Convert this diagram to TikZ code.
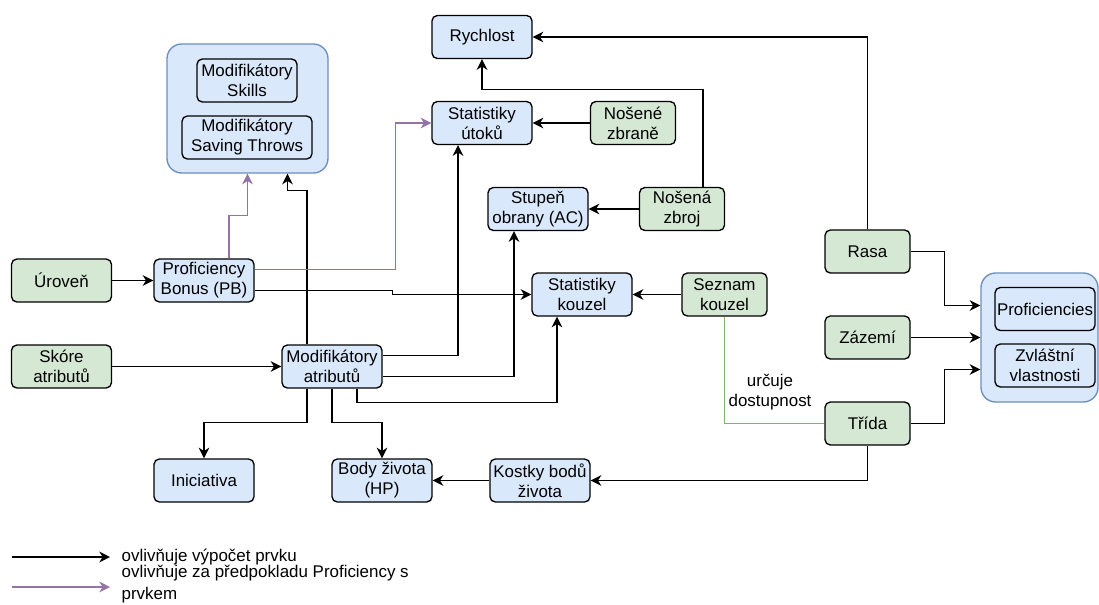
\documentclass[tikz,border=0pt]{standalone}
\usepackage{fontspec}
\setmainfont{Liberation Sans}
\usetikzlibrary{arrows.meta,calc}

\definecolor{blueF}{HTML}{DAE8FC}
\definecolor{blueD}{HTML}{6C8EBF}
\definecolor{greenF}{HTML}{D5E8D4}
\definecolor{greenD}{HTML}{82B366}
\definecolor{purpleD}{HTML}{9673A6}

\tikzset{
  box/.style={draw, rounded corners=4pt, minimum width=75pt, minimum height=32.25pt,
    inner sep=0pt, align=center, font=\fontsize{12.7}{15}\selectfont},
  calc box/.style={box, fill=blueF},
  input box/.style={box, fill=greenF},
  group box/.style={draw=blueD, fill=blueF, rounded corners=11pt, minimum height=96.75pt},
  arr/.style={draw, -{Stealth[length=8pt,width=8pt,inset=2.5pt]}},
  parr/.style={arr, draw=purpleD, -{Stealth[length=8pt,width=8pt,inset=2.5pt,fill=purpleD]}},
}

\begin{document}
\begin{tikzpicture}[x=0.75pt,y=-0.75pt,line width=1pt]

      \useasboundingbox (0,0) rectangle (1099,604);

      % skupiny
      \node[group box, minimum width=120.75pt] (modgrp) at (247.5,108.5) {};
      \node[group box, minimum width=87.75pt] (profgrp) at (1039.5,337.5) {};

      \begin{scope}[every node/.style={calc box}]
        \node (skills)  at (247,80.5)  {Modifikátory\\Skills};
        \node[minimum width=97.5pt] (saving) at (247,137.5) {Modifikátory\\Saving Throws};
        \node (prof)    at (1045,309)  {Proficiencies};
        \node (zvl)     at (1045,365.5) {Zvláštní\\vlastnosti};
        \node (rychlost) at (482,37)   {Rychlost};
        \node (utoky)   at (482,123)   {Statistiky\\útoků};
        \node (ac)      at (538,209)   {Stupeň\\obrany (AC)};
        \node (kouzla)  at (582,294.5) {Statistiky\\kouzel};
        \node (pb)      at (204,280.5) {Proficiency\\Bonus (PB)};
        \node (modattr) at (332,366.5) {Modifikátory\\atributů};
        \node (inic)    at (204,480.5) {Iniciativa};
        \node (hp)      at (382,480.5) {Body života\\(HP)};
        \node (kostky)  at (540,480.5) {Kostky bodů\\života};
      \end{scope}

      \begin{scope}[every node/.style={input box}]
        \node[minimum width=63.75pt] (zbrane)  at (633,123)   {Nošené\\zbraně};
        \node[minimum width=63.75pt] (zbroj)   at (682,209)   {Nošená\\zbroj};
        \node[minimum width=63.75pt] (seznam)  at (724.5,294.5) {Seznam\\kouzel};
        \node (uroven)  at (61.5,280.5) {Úroveň};
        \node (skore)   at (61.5,366.5) {Skóre\\atributů};
        \node[minimum width=63.75pt] (rasa)    at (867.5,251.5) {Rasa};
        \node[minimum width=63.75pt] (zazemi)  at (867.5,337.5) {Zázemí};
        \node[minimum width=63.75pt] (trida)   at (867.5,423.5) {Třída};
      \end{scope}

      % ovlivňuje výpočet
      \begin{scope}[every path/.style={arr}]
        \path (rasa.north) |- (rychlost.east);
        \path ($(zbroj.north)+(21,0)$) |- ($(rychlost.south)+(0,30)$) -- (rychlost.south);
        \path (zbrane.west) -- (utoky.east);
        \path (zbroj.west) -- (ac.west -| ac.east);
        \path (seznam.west) -- (kouzla.east);
        \path (uroven.east) -- (pb.west);
        \path ($(pb.east)+(0,10)$) -| ($(kouzla.west)+(-139,0)$) -- (kouzla.west);
        \path (skore.east) -- (modattr.west);
        \path ($(modattr.north)+(-25,0)$) |- ($(modgrp.south)+(40,17)$) -- ($(modgrp.south)+(40,0)$);
        \path ($(modattr.east)+(0,-11)$) -| ($(utoky.south)+(-24,0)$);
        \path ($(modattr.east)+(0,10)$) -| ($(ac.south)+(-24,0)$);
        \path ($(modattr.south)+(25,0)$) |- ($(kouzla.south)+(-25,86)$) -- ($(kouzla.south)+(-25,0)$);
        \path ($(modattr.south)+(-25,0)$) |- ($(inic.north)+(0,-36)$) -- (inic.north);
        \path (modattr.south) |- ($(hp.north)+(0,-36)$) -- (hp.north);
        \path (kostky.west) -- (hp.east);
        \path (trida.south) |- (kostky.east);
        \path (rasa.east) -| ($(profgrp.west)+(-36,-32)$) -- ($(profgrp.west)+(0,-32)$);
        \path (zazemi.east) -- (profgrp.west);
        \path (trida.east) -| ($(profgrp.west)+(-36,32)$) -- ($(profgrp.west)+(0,32)$);
      \end{scope}

      % ovlivňuje za předpokladu Proficiency
      \path[parr] ($(pb.north)+(25,0)$) |- ($(modgrp.south)+(0,42)$) -- (modgrp.south);
      \path[parr] ($(pb.east)+(0,-11)$) -| ($(utoky.west)+(-36,0)$) -- (utoky.west);

      % dostupnost kouzel
      \draw[greenD] (seznam.south) |- (trida.west);
      \node[align=center, font=\fontsize{12.7}{15}\selectfont] (dostup) at (770,392) {určuje\\dostupnost};

      % legenda
      \coordinate (leg1a) at (12,557);
      \coordinate (leg1b) at (110,557);
      \coordinate (leg2a) at (12,587);
      \coordinate (leg2b) at (110,587);
      \path[arr] (leg1a) -- (leg1b);
      \path[parr] (leg2a) -- (leg2b);
      \node[anchor=west, inner sep=0pt, font=\fontsize{12.7}{15}\selectfont] (legtext1) at (121,557) {ovlivňuje výpočet prvku};
      \node[anchor=west, inner sep=0pt, align=left, font=\fontsize{12.7}{16}\selectfont] (legtext2) at (121,584) {ovlivňuje za předpokladu Proficiency s\\prvkem};

    \end{tikzpicture}
\end{document}
